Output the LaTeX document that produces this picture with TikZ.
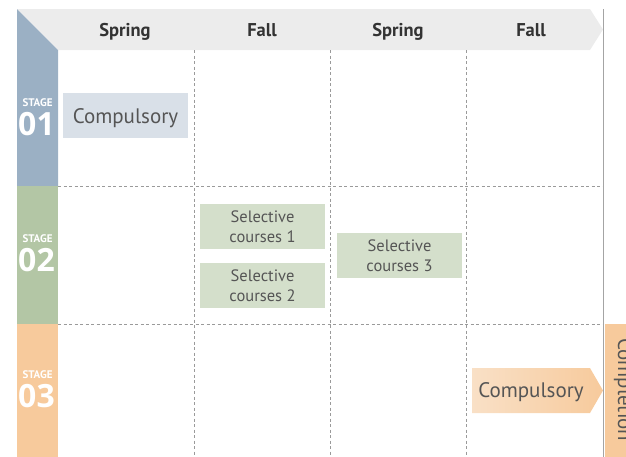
\documentclass[tikz,border=0pt]{standalone}
\usepackage{fontspec}
\setmainfont{PT Sans}
\newfontfamily\digitfont{Open Sans}
\definecolor{hdr}{HTML}{ECECEC}
\definecolor{sone}{HTML}{9BB0C4}
\definecolor{stwo}{HTML}{B3C6A5}
\definecolor{sthree}{HTML}{F7CA9C}
\definecolor{sthreel}{HTML}{F9E0C6}
\definecolor{boxone}{HTML}{D9E0E8}
\definecolor{boxtwo}{HTML}{D4DFCB}
\definecolor{gridc}{HTML}{9A9A9A}
\definecolor{txt}{HTML}{555555}
\definecolor{htxt}{HTML}{333333}
\tikzset{
  gridline/.style={draw=gridc, line width=0.8pt, dash pattern=on 3pt off 2.5pt},
  head/.style={anchor=base, font=\bfseries\fontsize{18.5}{20}\selectfont, text=htxt},
  course/.style={fill=boxtwo, minimum width=125pt, minimum height=45pt, inner sep=0pt, align=center, text=txt, font=\fontsize{16.5}{19.5}\selectfont},
  bigtxt/.style={text=txt, font=\fontsize{21}{22}\selectfont},
  stagelbl/.style={anchor=base, text=white, font=\bfseries\fontsize{11}{12}\selectfont, inner sep=0pt},
  stagenum/.style={anchor=base, text=white, font=\digitfont\bfseries\fontsize{32}{34}\selectfont, inner sep=0pt}
}
\begin{document}
\begin{tikzpicture}[x=1pt,y=-1pt]
\useasboundingbox (0,0) rectangle (626,456);
\clip (0,0) rectangle (626,456);
% header band
\fill[hdr] (17,9) -- (590,9) -- (603,29.5) -- (590,50) -- (58,50) -- cycle;
% stage columns
\fill[sone] (17,9) -- (58,50) -- (58,186) -- (17,186) -- cycle;
\fill[stwo] (17,186) rectangle (58,324);
\fill[sthree] (17,324) rectangle (58,460);
% grid
\draw[gridline] (58,186) -- (603,186);
\draw[gridline] (58,324) -- (603,324);
\foreach \x in {194,330,466} \draw[gridline] (\x,50) -- (\x,460);
% right border line
\draw[draw=gridc!90, line width=1.3pt] (603.5,9) -- (603.5,460);
% completion box
\fill[sthree] (605,324) rectangle (640,460);
\node[rotate=-90, anchor=base west, inner sep=0pt, bigtxt] (compl) at (618,338) {Completion};
% header labels
\node[head] (h1) at (125,36) {Spring};
\node[head] (h2) at (262,36) {Fall};
\node[head] (h3) at (398,36) {Spring};
\node[head] (h4) at (531,36) {Fall};
% stage labels
\node[stagelbl] (st1) at (37.5,106) {STAGE};
\node[stagenum] (n1) at (36.5,135) {01};
\node[stagelbl] (st2) at (37.5,242) {STAGE};
\node[stagenum] (n2) at (36.5,271) {02};
\node[stagelbl] (st3) at (37.5,378) {STAGE};
\node[stagenum] (n3) at (36.5,407) {03};
% courses
\node[course, fill=boxone] (c1) at (125.5,115.5) {};
\node[bigtxt, anchor=base] (c1t) at (125.5,123) {Compulsory};
\node[course] (sc1) at (262.5,226.5) {Selective\\courses 1};
\node[course] (sc2) at (262.5,285.5) {Selective\\courses 2};
\node[course] (sc3) at (399.5,255.5) {Selective\\courses 3};
\shade[left color=sthreel, right color=sthree] (472,368) -- (590,368) -- (603,390.5) -- (590,413) -- (472,413) -- cycle;
\node[bigtxt, anchor=base] (c3) at (531,397) {Compulsory};
\end{tikzpicture}
\end{document}
